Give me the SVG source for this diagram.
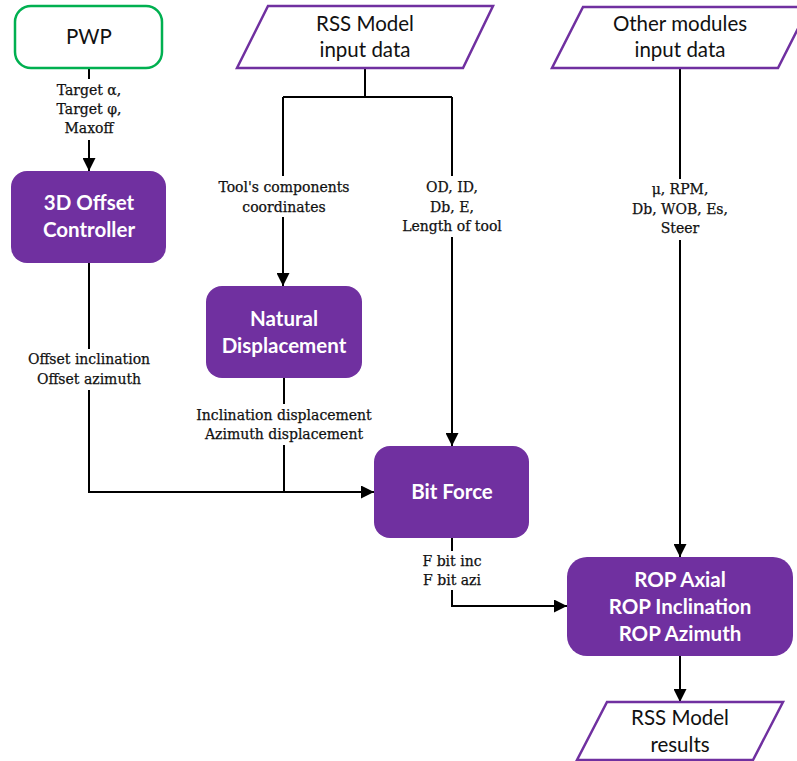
<svg xmlns="http://www.w3.org/2000/svg" width="797" height="761" viewBox="0 0 797 761">
  <style>
    .proc { fill: #7030A0; }
    .io { fill: #ffffff; stroke: #7030A0; stroke-width: 2.5; }
    .start { fill: #ffffff; stroke: #00B050; stroke-width: 2.5; }
    .title { font-family: Lato, "Open Sans", sans-serif; font-size: 20.5px; fill: #111111; text-anchor: middle; }
    .ptitle { font-family: Lato, "Open Sans", sans-serif; font-size: 20.5px; font-weight: bold; fill: #ffffff; text-anchor: middle; }
    .lbl { font-family: "DejaVu Serif", "Liberation Serif", serif; font-size: 14px; fill: #111111; stroke: #111111; stroke-width: 0.25; text-anchor: middle; }
    .wire { fill: none; stroke: #000000; stroke-width: 2; }
  </style>
  <defs>
    <marker id="arr" viewBox="0 0 10 10" refX="10" refY="5" markerWidth="7" markerHeight="6.5" orient="auto" markerUnits="strokeWidth">
      <path d="M0,0 L10,5 L0,10 Z" fill="#000000"/>
    </marker>
  </defs>

  <rect width="797" height="761" fill="#ffffff"/>

  <g id="connectors">
    <!-- PWP to 3D Offset Controller -->
    <path class="wire" d="M89,68 V79"/>
    <path class="wire" d="M89,140 V171" marker-end="url(#arr)"/>
    <!-- RSS Model input split -->
    <path class="wire" d="M365,68 V97 M283,97 H452"/>
    <path class="wire" d="M283,97 V176"/>
    <path class="wire" d="M283,217 V286" marker-end="url(#arr)"/>
    <path class="wire" d="M452,97 V176"/>
    <path class="wire" d="M452,237 V446" marker-end="url(#arr)"/>
    <!-- Offset controller to Bit Force -->
    <path class="wire" d="M89,263 V349"/>
    <path class="wire" d="M89,390 V492 H374" marker-end="url(#arr)"/>
    <!-- Natural displacement to Bit Force -->
    <path class="wire" d="M284,378 V404"/>
    <path class="wire" d="M284,445 V492"/>
    <!-- Other modules to ROP -->
    <path class="wire" d="M680,68 V179"/>
    <path class="wire" d="M680,240 V557" marker-end="url(#arr)"/>
    <!-- Bit Force to ROP -->
    <path class="wire" d="M452,538 V551"/>
    <path class="wire" d="M452,590 V606 H567" marker-end="url(#arr)"/>
    <!-- ROP to results -->
    <path class="wire" d="M680,656 V702" marker-end="url(#arr)"/>
  </g>

  <g id="edge-labels">
    <text class="lbl" x="89" y="95">Target α,</text>
    <text class="lbl" x="89" y="114">Target φ,</text>
    <text class="lbl" x="89" y="133">Maxoff</text>
    <text class="lbl" x="284" y="192">Tool's components</text>
    <text class="lbl" x="284" y="212">coordinates</text>
    <text class="lbl" x="452" y="192">OD, ID,</text>
    <text class="lbl" x="452" y="212">Db, E,</text>
    <text class="lbl" x="452" y="231">Length of tool</text>
    <text class="lbl" x="680" y="194">μ, RPM,</text>
    <text class="lbl" x="680" y="214">Db, WOB, Es,</text>
    <text class="lbl" x="680" y="233">Steer</text>
    <text class="lbl" x="89" y="364">Offset inclination</text>
    <text class="lbl" x="89" y="384">Offset azimuth</text>
    <text class="lbl" x="284" y="420">Inclination displacement</text>
    <text class="lbl" x="284" y="439">Azimuth displacement</text>
    <text class="lbl" x="452" y="566">F bit inc</text>
    <text class="lbl" x="452" y="585">F bit azi</text>
  </g>

  <g id="pwp">
    <rect class="start" x="15" y="6" width="147" height="62" rx="16"/>
    <text class="title" x="89" y="44">PWP</text>
  </g>

  <g id="rss-input">
    <polygon class="io" points="268,6 493,6 463,68 237,68"/>
    <text class="title" x="365" y="31">RSS Model</text>
    <text class="title" x="365" y="57">input data</text>
  </g>

  <g id="other-input">
    <polygon class="io" points="583,7 809,7 778,68 552,68"/>
    <text class="title" x="680" y="31">Other modules</text>
    <text class="title" x="680" y="57">input data</text>
  </g>

  <g id="offset-controller">
    <rect class="proc" x="11" y="171" width="155" height="92" rx="16"/>
    <text class="ptitle" x="89" y="210">3D Offset</text>
    <text class="ptitle" x="89" y="237">Controller</text>
  </g>

  <g id="natural-displacement">
    <rect class="proc" x="206" y="286" width="156" height="92" rx="16"/>
    <text class="ptitle" x="284" y="326">Natural</text>
    <text class="ptitle" x="284" y="353">Displacement</text>
  </g>

  <g id="bit-force">
    <rect class="proc" x="374" y="446" width="155" height="92" rx="16"/>
    <text class="ptitle" x="452" y="499">Bit Force</text>
  </g>

  <g id="rop">
    <rect class="proc" x="567" y="557" width="226" height="99" rx="20"/>
    <text class="ptitle" x="680" y="587">ROP Axial</text>
    <text class="ptitle" x="680" y="614">ROP Inclination</text>
    <text class="ptitle" x="680" y="641">ROP Azimuth</text>
  </g>

  <g id="rss-results">
    <polygon class="io" points="607,702 783,702 753,760 577,760"/>
    <text class="title" x="680" y="725">RSS Model</text>
    <text class="title" x="680" y="752">results</text>
  </g>
</svg>
